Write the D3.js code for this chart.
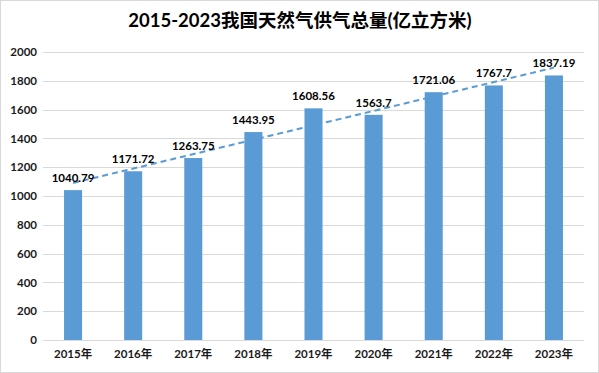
<!DOCTYPE html>
<html><head><meta charset="utf-8">
<script src="https://cdn.jsdelivr.net/npm/d3@7"></script>
<style>body{margin:0;background:#fff}svg{display:block}</style>
</head><body>
<svg id="c" width="599" height="373"></svg>
<script>
const categories = ["2015年","2016年","2017年","2018年","2019年","2020年","2021年","2022年","2023年"];
const values = [1040.79,1171.72,1263.75,1443.95,1608.56,1563.7,1721.06,1767.7,1837.19];
const valueLabels = ["1040.79","1171.72","1263.75","1443.95","1608.56","1563.7","1721.06","1767.7","1837.19"];
const yTicks = [0,200,400,600,800,1000,1200,1400,1600,1800,2000];
const title = "2015-2023我国天然气供气总量(亿立方米)";

const svg = d3.select("#c");
const W = 599, H = 373;
const m = {l:43, r:15, t:52, b:33};
const font = "Lato, 'Noto Sans CJK SC', sans-serif";

svg.append("rect").attr("x",0.5).attr("y",0.5).attr("width",W-1).attr("height",H-1)
  .attr("fill","#fff").attr("stroke","#d9d9d9");

svg.append("text").attr("x",300).attr("y",27).attr("text-anchor","middle")
  .attr("font-family",font).attr("font-weight","bold").attr("font-size",18.5).attr("fill","#000").text(title);

const x = d3.scaleBand().domain(categories).range([m.l, W-m.r]).paddingInner(0.7).paddingOuter(0.35);
const y = d3.scaleLinear().domain([0,2000]).range([H-m.b, m.t]);

const g = svg.append("g");
g.selectAll("line.grid").data(yTicks).join("line").attr("class","grid")
  .attr("x1",m.l).attr("x2",W-m.r).attr("y1",d=>Math.round(y(d))+0.5).attr("y2",d=>Math.round(y(d))+0.5)
  .attr("stroke","#d9d9d9").attr("stroke-width",1);

const yAxis = svg.append("g").attr("transform",`translate(${m.l},0)`)
  .call(d3.axisLeft(y).tickValues(yTicks).tickFormat(d3.format("d")).tickSize(0).tickPadding(6));
yAxis.select(".domain").remove();
yAxis.selectAll("text").attr("font-family",font).attr("font-size",11.5).attr("font-weight","bold").attr("fill","#1a1a1a");

const xAxis = svg.append("g").attr("transform",`translate(0,${H-m.b})`)
  .call(d3.axisBottom(x).tickSize(0).tickPadding(10));
xAxis.select(".domain").remove();
xAxis.selectAll("text").attr("font-family",font).attr("font-size",11.5).attr("font-weight","bold").attr("fill","#1a1a1a");

svg.append("g").selectAll("rect").data(values).join("rect")
  .attr("x",(d,i)=>x(categories[i])).attr("width",x.bandwidth())
  .attr("y",d=>y(d)).attr("height",d=>y(0)-y(d)).attr("fill","#5b9bd5");

// linear trendline (least squares)
const n = values.length;
const mx = d3.mean(d3.range(n)), my = d3.mean(values);
const slope = d3.sum(values,(v,i)=>(i-mx)*(v-my)) / d3.sum(d3.range(n),i=>(i-mx)*(i-mx));
const icpt = my - slope*mx;
const cx = i => x(categories[i]) + x.bandwidth()/2;
svg.append("line").attr("x1",cx(0)).attr("y1",y(icpt)).attr("x2",cx(n-1)).attr("y2",y(icpt+slope*(n-1)))
  .attr("stroke","#5b9bd5").attr("stroke-width",2).attr("stroke-dasharray","6,4");

svg.append("g").selectAll("text").data(values).join("text")
  .attr("x",(d,i)=>cx(i)).attr("y",d=>y(d)-8).attr("text-anchor","middle")
  .attr("font-family",font).attr("font-size",11.5).attr("font-weight","bold").attr("fill","#000")
  .text((d,i)=>valueLabels[i]);
</script>
</body></html>
